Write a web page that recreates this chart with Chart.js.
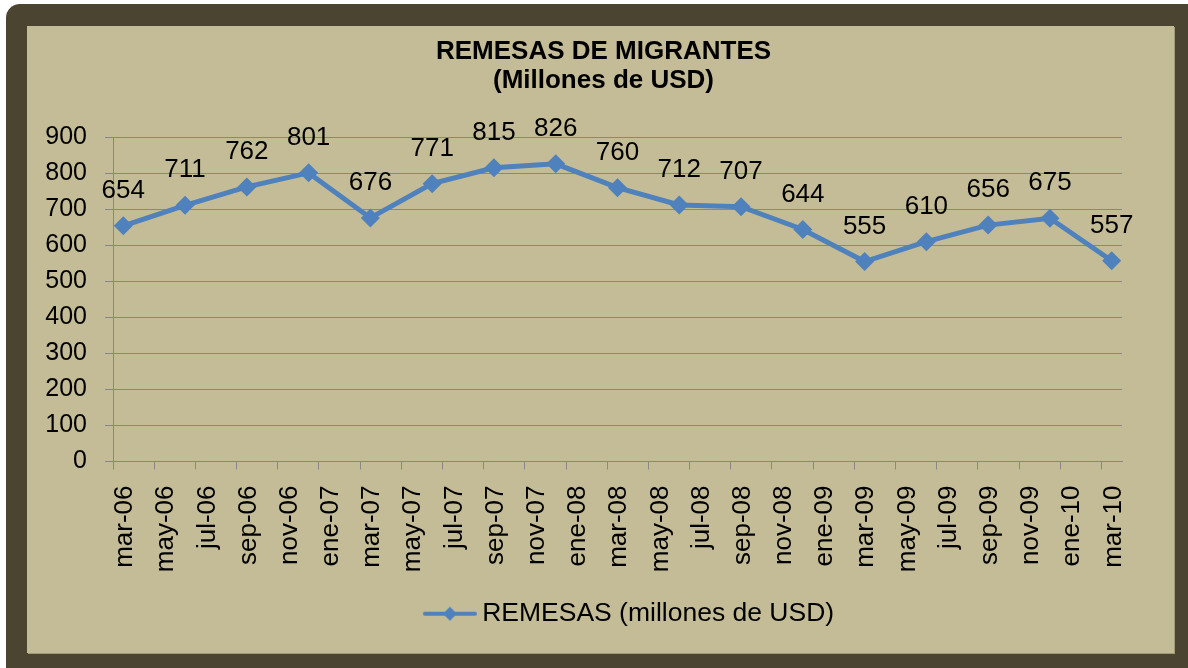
<!DOCTYPE html>
<html>
<head>
<meta charset="utf-8">
<script src="https://cdn.jsdelivr.net/npm/chart.js@4.4.1/dist/chart.umd.min.js"></script>
<style>
  html, body { margin: 0; padding: 0; background: #ffffff; }
  body { width: 1188px; height: 668px; overflow: hidden; position: relative; }
  .marco {
    position: absolute; left: 6px; top: 4px; width: 1210px; height: 690px;
    background: #4a4430; border-radius: 14px;
  }
  .panel {
    position: absolute; left: 27px; top: 26px; width: 1147px; height: 627px;
    background: #c4bc96; box-shadow: 1px 1px 0 #a39b78;
  }
  #grafico { display: block; }
</style>
</head>
<body>
<div class="marco"></div>
<div class="panel"><canvas id="grafico" width="1147" height="627"></canvas></div>
<script>
// Remesas trimestrales (millones de USD)
const periodos = ['mar-06', 'jun-06', 'sep-06', 'dic-06', 'mar-07', 'jun-07', 'sep-07', 'dic-07',
  'mar-08', 'jun-08', 'sep-08', 'dic-08', 'mar-09', 'jun-09', 'sep-09', 'dic-09', 'mar-10'];
const remesas = [654, 711, 762, 801, 676, 771, 815, 826, 760, 712, 707, 644, 555, 610, 656, 675, 557];

// etiquetas del eje de fechas (cada 2 meses)
const etiquetasEje = ['mar-06', 'may-06', 'jul-06', 'sep-06', 'nov-06', 'ene-07', 'mar-07', 'may-07',
  'jul-07', 'sep-07', 'nov-07', 'ene-08', 'mar-08', 'may-08', 'jul-08', 'sep-08', 'nov-08', 'ene-09',
  'mar-09', 'may-09', 'jul-09', 'sep-09', 'nov-09', 'ene-10', 'mar-10'];

const titulo = ['REMESAS DE MIGRANTES', '(Millones de USD)'];
const nombreSerie = 'REMESAS (millones de USD)';

const AZUL = '#4f81bd';
const GRIS = '#878787';
const FUENTE = "'Liberation Sans', Arial, sans-serif";

// meses desde mar-06 (datos trimestrales)
const puntos = remesas.map((v, i) => ({ x: i * 3, y: v }));

// simbolo de leyenda: linea con rombo, pegado al texto (espacio vacio a la izquierda)
function simboloLeyenda() {
  const c = document.createElement('canvas');
  c.width = 170; c.height = 24;
  const g = c.getContext('2d');
  g.strokeStyle = AZUL;
  g.lineWidth = 4;
  g.lineCap = 'round';
  g.beginPath(); g.moveTo(118, 12); g.lineTo(168, 12); g.stroke();
  g.fillStyle = AZUL;
  g.beginPath(); g.moveTo(143, 5); g.lineTo(150, 12); g.lineTo(143, 19); g.lineTo(136, 12); g.closePath(); g.fill();
  return c;
}

const etiquetasDatos = {
  id: 'etiquetasDatos',
  afterDatasetsDraw(chart) {
    const ctx = chart.ctx;
    const meta = chart.getDatasetMeta(0);
    ctx.save();
    ctx.font = '26px ' + FUENTE;
    ctx.fillStyle = '#000';
    ctx.textAlign = 'center';
    ctx.textBaseline = 'middle';
    meta.data.forEach((p, i) => {
      ctx.fillText(String(remesas[i]), p.x, p.y - 35);
    });
    ctx.restore();
  }
};

// el titulo va centrado en todo el panel, no solo en la zona del grafico
const centrarTitulo = {
  id: 'centrarTitulo',
  afterLayout(chart) {
    if (chart.titleBlock) chart.titleBlock.left += 58;
  }
};

new Chart(document.getElementById('grafico'), {
  type: 'line',
  data: {
    datasets: [{
      label: nombreSerie,
      data: puntos,
      borderColor: AZUL,
      backgroundColor: AZUL,
      borderWidth: 5,
      pointStyle: 'rectRot',
      pointRadius: 9.5,
      pointBorderWidth: 0,
      pointBackgroundColor: AZUL,
      tension: 0
    }]
  },
  options: {
    responsive: false,
    animation: false,
    layout: { padding: { left: 0, right: 52, top: 0, bottom: 16 } },
    scales: {
      x: {
        type: 'linear',
        min: -0.5,
        max: 48.5,
        afterBuildTicks: (scale) => {
          scale.ticks = etiquetasEje.map((e, i) => ({ value: i * 2 - 0.5 }));
        },
        afterFit: (scale) => { scale.height = 129; },
        grid: { drawOnChartArea: false, drawTicks: true, tickLength: 8, color: GRIS, lineWidth: 1 },
        border: { display: true, color: GRIS, width: 1 },
        ticks: {
          autoSkip: false,
          minRotation: 90,
          maxRotation: 90,
          padding: 16,
          labelOffset: 12,
          color: '#000',
          font: { family: FUENTE, size: 26 },
          callback: (v, i) => etiquetasEje[i]
        }
      },
      y: {
        min: 0,
        max: 900,
        afterFit: (scale) => { scale.width = 86; },
        grid: { color: GRIS, lineWidth: 1, tickLength: 8 },
        border: { display: true, color: GRIS, width: 1 },
        ticks: {
          stepSize: 100,
          padding: 18,
          color: '#000',
          font: { family: FUENTE, size: 25 }
        }
      }
    },
    plugins: {
      title: {
        display: true,
        text: titulo,
        color: '#000',
        font: { family: FUENTE, size: 26, weight: 'bold', lineHeight: 1.1 },
        padding: { top: 12, bottom: 42 }
      },
      legend: {
        position: 'bottom',
        labels: {
          usePointStyle: true,
          pointStyle: simboloLeyenda(),
          pointStyleWidth: 154,
          color: '#000',
          padding: 10,
          font: { family: FUENTE, size: 26.5 }
        }
      },
      tooltip: { enabled: false }
    }
  },
  plugins: [etiquetasDatos, centrarTitulo]
});
</script>
</body>
</html>
